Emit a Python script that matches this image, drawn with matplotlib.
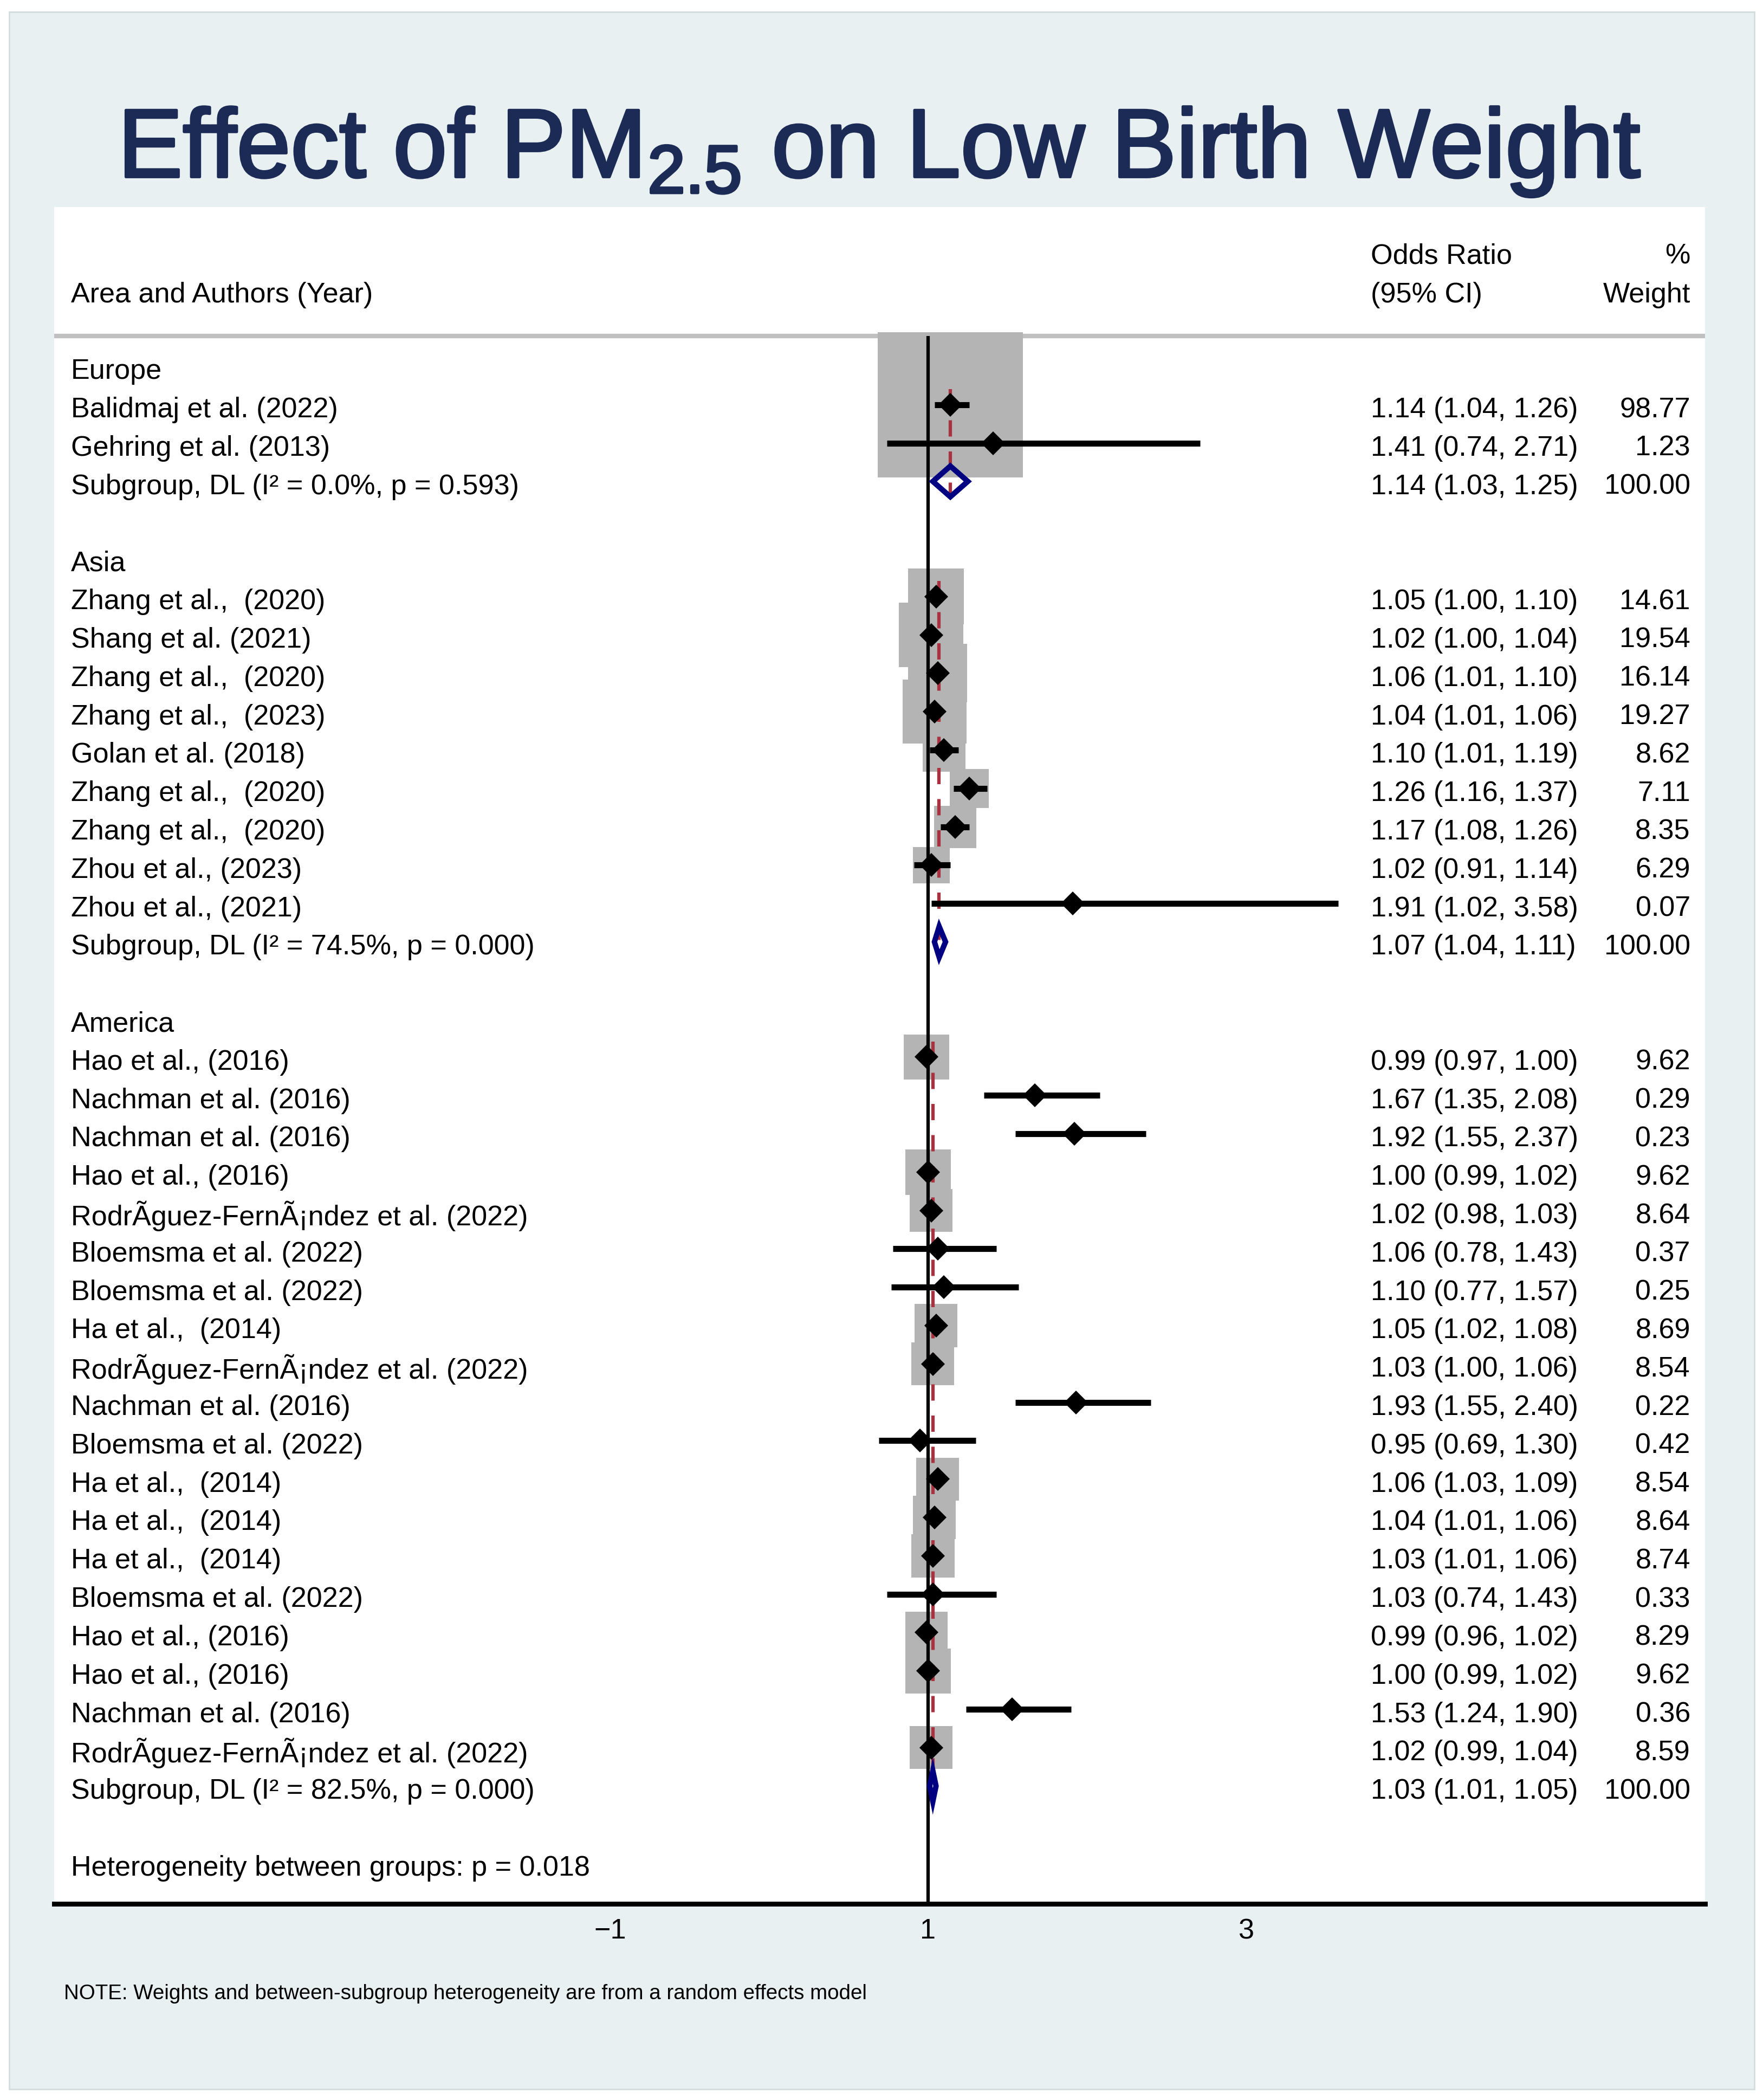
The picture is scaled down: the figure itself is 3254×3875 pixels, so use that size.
import numpy as np
import matplotlib.pyplot as plt
import matplotlib.patheffects as pe
from matplotlib.patches import Polygon, Rectangle

plt.rcParams['font.family'] = ['Liberation Sans', 'DejaVu Sans']
plt.rcParams['mathtext.fontset'] = 'custom'
plt.rcParams['mathtext.rm'] = 'Liberation Sans'

# ---- data ----
groups = ['Europe', 'Asia', 'America']

eu_labels = ['Balidmaj et al. (2022)', 'Gehring et al. (2013)']
eu_or = [1.14, 1.41]
eu_lo = [1.04, 0.74]
eu_hi = [1.26, 2.71]
eu_w = [98.77, 1.23]

asia_labels = ['Zhang et al.,  (2020)', 'Shang et al. (2021)', 'Zhang et al.,  (2020)',
               'Zhang et al.,  (2023)', 'Golan et al. (2018)', 'Zhang et al.,  (2020)',
               'Zhang et al.,  (2020)', 'Zhou et al., (2023)', 'Zhou et al., (2021)']
asia_or = [1.05, 1.02, 1.06, 1.04, 1.10, 1.26, 1.17, 1.02, 1.91]
asia_lo = [1.00, 1.00, 1.01, 1.01, 1.01, 1.16, 1.08, 0.91, 1.02]
asia_hi = [1.10, 1.04, 1.10, 1.06, 1.19, 1.37, 1.26, 1.14, 3.58]
asia_w = [14.61, 19.54, 16.14, 19.27, 8.62, 7.11, 8.35, 6.29, 0.07]

rf = 'Rodr\u00c3guez-Fern\u00c3\u00a1ndez et al. (2022)'
am_labels = ['Hao et al., (2016)', 'Nachman et al. (2016)', 'Nachman et al. (2016)',
             'Hao et al., (2016)', rf, 'Bloemsma et al. (2022)', 'Bloemsma et al. (2022)',
             'Ha et al.,  (2014)', rf, 'Nachman et al. (2016)', 'Bloemsma et al. (2022)',
             'Ha et al.,  (2014)', 'Ha et al.,  (2014)', 'Ha et al.,  (2014)',
             'Bloemsma et al. (2022)', 'Hao et al., (2016)', 'Hao et al., (2016)',
             'Nachman et al. (2016)', rf]
am_or = [0.99, 1.67, 1.92, 1.00, 1.02, 1.06, 1.10, 1.05, 1.03, 1.93, 0.95, 1.06,
         1.04, 1.03, 1.03, 0.99, 1.00, 1.53, 1.02]
am_lo = [0.97, 1.35, 1.55, 0.99, 0.98, 0.78, 0.77, 1.02, 1.00, 1.55, 0.69, 1.03,
         1.01, 1.01, 0.74, 0.96, 0.99, 1.24, 0.99]
am_hi = [1.00, 2.08, 2.37, 1.02, 1.03, 1.43, 1.57, 1.08, 1.06, 2.40, 1.30, 1.09,
         1.06, 1.06, 1.43, 1.02, 1.02, 1.90, 1.04]
am_w = [9.62, 0.29, 0.23, 9.62, 8.64, 0.37, 0.25, 8.69, 8.54, 0.22, 0.42, 8.54,
        8.64, 8.74, 0.33, 8.29, 9.62, 0.36, 8.59]

pooled_or = [1.14, 1.07, 1.03]
pooled_lo = [1.03, 1.04, 1.01]
pooled_hi = [1.25, 1.11, 1.05]
pooled_i2 = [0.0, 74.5, 82.5]
pooled_p = [0.593, 0.000, 0.000]
het_p = 0.018

study_labels = [eu_labels, asia_labels, am_labels]
study_or = [eu_or, asia_or, am_or]
study_lo = [eu_lo, asia_lo, am_lo]
study_hi = [eu_hi, asia_hi, am_hi]
study_w = [eu_w, asia_w, am_w]

# ---- figure ----
fs = 37.5
navy = '#000080'
title_col = '#1c2b55'
fig = plt.figure(figsize=(32.55, 38.75), dpi=100)
fig.patches.append(Rectangle((0.0052, 0.0052), 0.9896, 0.9891, transform=fig.transFigure,
                             facecolor='#e8f0f2', edgecolor='#d3dcde', lw=2, zorder=-5))

fig.text(0.4985, 0.9155, r'Effect of PM$_{\mathregular{2.5}}$ on Low Birth Weight',
         ha='center', va='baseline', fontsize=129, color=title_col,
         path_effects=[pe.withStroke(linewidth=3.5, foreground=title_col)])
fig.text(0.0363, 0.0505, 'NOTE: Weights and between-subgroup heterogeneity are from a random effects model',
         ha='left', va='center', fontsize=27.7)

ax = fig.add_axes([0.0307, 0.0934, 0.9361, 0.808])
ax.set_facecolor('white')
ax.set_xlim(-4.496, 5.886)
ax.set_ylim(40.07, -4.15)
for s in ['top', 'left', 'right']:
    ax.spines[s].set_visible(False)
ax.spines['bottom'].set_linewidth(6.5)
ax.set_yticks([])
ax.set_xticks([-1, 1, 3])
ax.set_xticklabels(['\u22121', '1', '3'])
ax.tick_params(axis='x', length=0, pad=19, labelsize=fs)

tr = ax.get_yaxis_transform()
x_lab, x_or, x_w = 0.0102, 0.7975, 0.9911
dy = 0.14  # text sits slightly below the row centre


def put(x, r, s, **kw):
    ax.text(x, r + dy, s, transform=tr, fontsize=fs, va='center', **kw)


# header
sep_row = -0.79
put(x_lab, -2, 'Area and Authors (Year)')
put(x_or, -3, 'Odds Ratio')
put(x_or, -2, '(95% CI)')
put(x_w, -3, '%', ha='right')
put(x_w, -2, 'Weight', ha='right')
ax.axhline(sep_row, color='#c0c0c0', lw=6, zorder=1)

ax.vlines(1, sep_row, ax.get_ylim()[0], color='black', lw=4.5, zorder=3)

box_scale = 19.4
row = 0
for g in range(len(groups)):
    put(x_lab, row, groups[g])
    row += 1
    first = row
    n = len(study_or[g])
    rows = np.arange(first, first + n)
    ors = np.array(study_or[g])
    ax.scatter(ors, rows, s=box_scale ** 2 * np.array(study_w[g]), marker='s',
               color='#b4b4b4', linewidths=0, zorder=2)
    ax.hlines(rows, study_lo[g], study_hi[g], color='black', lw=8, zorder=5)
    ax.plot(ors, rows, 'D', color='black', ms=22, mew=0, zorder=6)
    for i in range(n):
        r = rows[i]
        put(x_lab, r, study_labels[g][i])
        put(x_or, r, f'{study_or[g][i]:.2f} ({study_lo[g][i]:.2f}, {study_hi[g][i]:.2f})')
        put(x_w, r, f'{study_w[g][i]:.2f}', ha='right')
    row = first + n
    # subgroup pooled estimate
    est, lo, hi = pooled_or[g], pooled_lo[g], pooled_hi[g]
    ax.vlines(est, first - 0.4, row + 0.4, color='#a83240', lw=4.5, linestyles=(0, (4.8, 4.4)), zorder=4)
    ax.add_patch(Polygon([(lo, row), (est, row - 0.4), (hi, row), (est, row + 0.4)], closed=True,
                         facecolor='none', edgecolor=navy, lw=7.2, joinstyle='miter', zorder=6))
    put(x_lab, row, f'Subgroup, DL (I\u00b2 = {pooled_i2[g]:.1f}%, p = {pooled_p[g]:.3f})')
    put(x_or, row, f'{est:.2f} ({lo:.2f}, {hi:.2f})')
    put(x_w, row, '100.00', ha='right')
    row += 2

put(x_lab, row, f'Heterogeneity between groups: p = {het_p:.3f}')

fig.savefig('out.png', dpi=100, facecolor='white')
